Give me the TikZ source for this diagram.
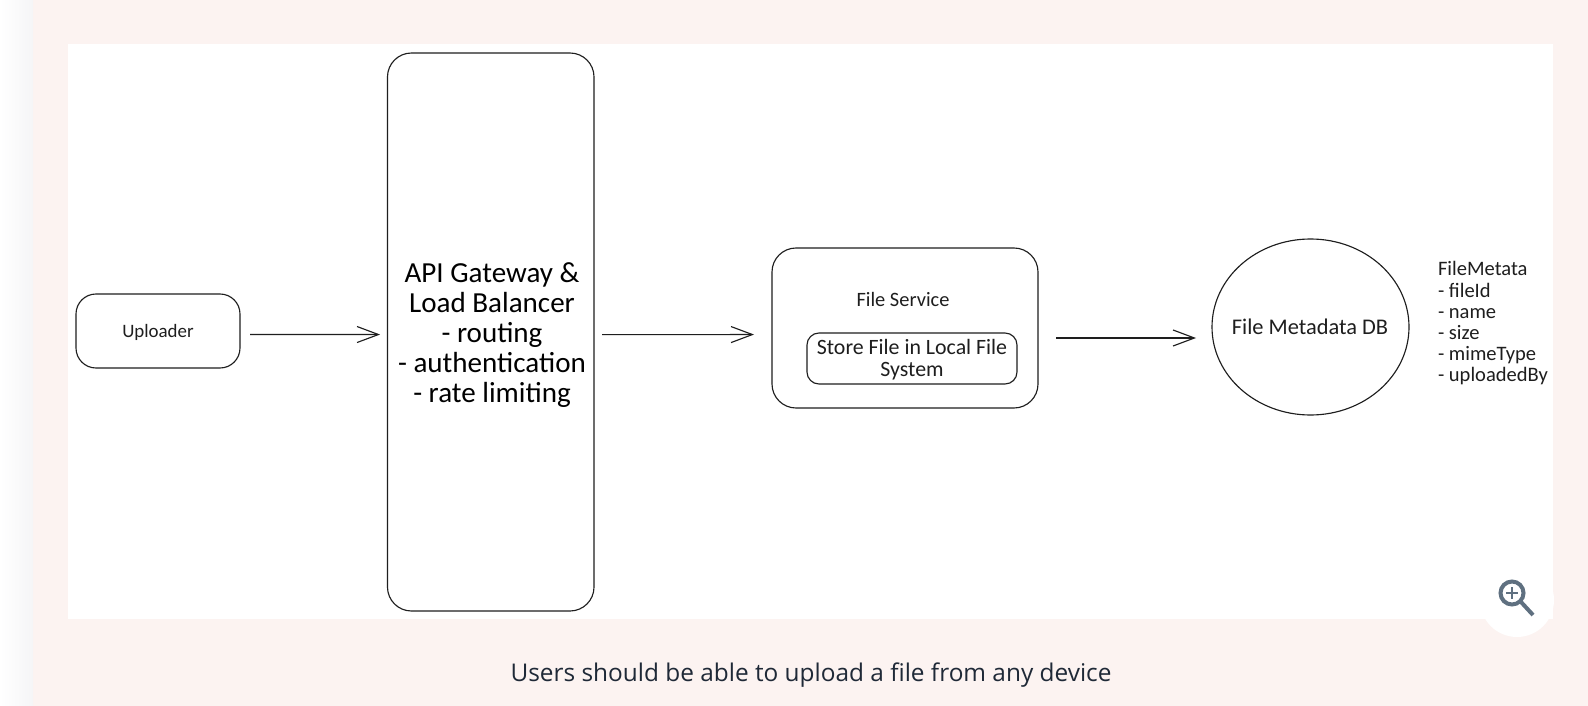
\documentclass[tikz,border=0pt]{standalone}
\usepackage{fontspec}
\usepackage{tikz}
\usetikzlibrary{arrows.meta,shapes.geometric}
\setmainfont{Carlito}
\newfontfamily\captionfont{Open Sans}
\definecolor{pagepink}{HTML}{FCF3F1}
\definecolor{pagegrey}{HTML}{F5F5F7}
\definecolor{inkdark}{HTML}{1E1E1E}
\definecolor{captionink}{HTML}{1F2937}
\definecolor{iconslate}{HTML}{5F7080}
\begin{document}
\begin{tikzpicture}[x=0.75pt,y=0.75pt]
    \tikzstyle{every node}+=[inner sep=0pt,outer sep=0pt]
    \tikzstyle{box}=[draw=inkdark,line width=0.85pt,rounded corners=15pt,align=center,text=inkdark]
    \tikzstyle{txt}=[text=inkdark,align=center]
    \tikzstyle{flow}=[draw=inkdark,line width=0.85pt,-{Straight Barb[length=16pt,width=12pt]}]
    \useasboundingbox (0,0) rectangle (1588,-706);
    \fill [pagepink] (0,0) rectangle (1588,-706);
    \shade [left color=white,right color=pagegrey] (0,0) rectangle (33,-706);
    \fill [white] (68,-44) rectangle (1553,-619);
    \fill [white] (1517,-600) circle (37);
    % boxes
    \draw (158,-331) node [box,minimum width=123pt,minimum height=55.5pt] (uploader) {};
    \draw (158,-332.5) node [txt,font=\fontsize{14.2}{16}\selectfont] (uploaderlabel) {Uploader};
    \draw (490.75,-332) node [box,rounded corners=18pt,minimum width=154.9pt,minimum height=418.5pt] (gateway) {};
    \draw (492,-335) node [txt,text=black,font=\fontsize{21.8}{22.5}\selectfont] (gatewaylabel) {API Gateway \&\\Load Balancer\\- routing\\- authentication\\- rate limiting};
    \draw (905,-328) node [box,rounded corners=18pt,minimum width=199.5pt,minimum height=120pt] (fileservice) {};
    \draw (903,-299) node [txt,font=\fontsize{15.3}{17}\selectfont] (fileservicelabel) {File Service};
    \draw (912,-358.5) node [box,rounded corners=9pt,minimum width=157.5pt,minimum height=38.25pt] (localstore) {};
    \draw (912,-359.5) node [txt,font=\fontsize{16.4}{16.5}\selectfont] (localstorelabel) {Store File in Local File\\System};
    \draw (1310.5,-327) node [ellipse,draw=inkdark,line width=0.85pt,minimum width=147.75pt,minimum height=132pt] (metadb) {};
    \draw (1310,-327) node [txt,font=\fontsize{16.8}{18}\selectfont] (metadblabel) {File Metadata DB};
    \draw (1438,-323.5) node [txt,align=left,anchor=west,font=\fontsize{15.4}{15.9}\selectfont] (metafields) {FileMetata\\- fileId\\- name\\- size\\- mimeType\\- uploadedBy};
    % arrows
    \draw [flow,shorten <=7.5pt,shorten >=5.6pt] ([yshift=-2.6pt]uploader.east) -- ([yshift=-1.9pt]gateway.west);
    \draw [flow,shorten <=6pt,shorten >=13.5pt] ([yshift=-2pt]gateway.east) -- ([yshift=-4.9pt]fileservice.west);
    \draw [flow,shorten <=13.5pt,shorten >=12pt] ([yshift=-7.5pt]fileservice.east) -- ([yshift=-8.25pt]metadb.west);
    % zoom icon
    \draw [iconslate,line width=3pt] (1512,-593) circle (11.5);
    \draw [iconslate,line width=3pt] (1521,-602) -- (1533,-615);
    \draw [iconslate,line width=1.3pt] (1506,-593) -- (1518,-593);
    \draw [iconslate,line width=1.3pt] (1512,-587) -- (1512,-599);
    % caption
    \draw (811,-675) node [text=captionink,font=\captionfont\fontsize{18.3}{20}\selectfont] (caption) {Users should be able to upload a file from any device};
\end{tikzpicture}
\end{document}
